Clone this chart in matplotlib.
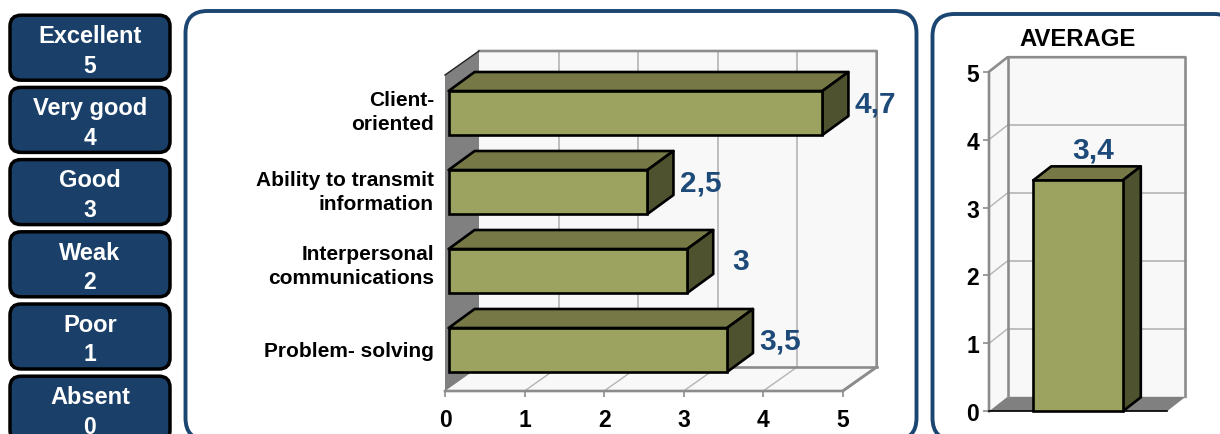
import matplotlib
matplotlib.use('Agg')
import matplotlib.pyplot as plt
import matplotlib.transforms as mtransforms
from matplotlib.patches import FancyBboxPatch, Polygon

plt.rcParams['font.family'] = ['Liberation Sans', 'DejaVu Sans']
plt.rcParams['font.weight'] = 'bold'

# chart values
scale_names = ['Excellent', 'Very good', 'Good', 'Weak', 'Poor', 'Absent']
scale_values = [5, 4, 3, 2, 1, 0]
categories = ['Client-\noriented', 'Ability to transmit\ninformation',
              'Interpersonal\ncommunications', 'Problem- solving']
scores = [4.7, 2.5, 3, 3.5]
average_title = 'AVERAGE'
average_score = [3.4]
score_ticks = [0, 1, 2, 3, 4, 5]

NAVY = '#1a4069'
LINE_BLUE = '#1b4672'
VALUE_BLUE = '#1d4a78'
BAR_FRONT = '#9ca25f'
BAR_TOP = '#767946'
BAR_SIDE = '#4f522f'
WALL = '#f8f8f8'
WALL_EDGE = '#8c8c8c'
GRID = '#b4b4b4'
DARK_WALL = '#808080'
W, H = 1220, 435


def pixel_axes(fig, left, right, top, bottom):
    return fig.add_axes([left / W, 1 - bottom / H, (right - left) / W, (bottom - top) / H])


def comma(v):
    return str(v).replace('.', ',')


def poly(ax, pts, face, edge='none', lw=0, z=1):
    ax.add_patch(Polygon(pts, closed=True, facecolor=face, edgecolor=edge, linewidth=lw,
                         joinstyle='round', clip_on=False, zorder=z))


# draws the top and side of a box whose front is x0..x1, y0..y1 (y1 is the upper edge)
def box_sides(ax, x0, x1, y0, y1, ddx, ddy, z):
    poly(ax, [(x0, y1), (x1, y1), (x1 + ddx, y1 + ddy), (x0 + ddx, y1 + ddy)], BAR_TOP, 'black', 1.9, z)
    poly(ax, [(x1, y0), (x1, y1), (x1 + ddx, y1 + ddy), (x1 + ddx, y0 + ddy)], BAR_SIDE, 'black', 1.9, z)


fig = plt.figure(figsize=(W / 100, H / 100), dpi=100, facecolor='white')

# background layer in pixels: panels and the scale buttons
bg = fig.add_axes([0, 0, 1, 1], zorder=0)
bg.set_xlim(0, W)
bg.set_ylim(H, 0)
bg.axis('off')

R = 22
for left, top, right in [(185.5, 12, 916.5), (932.5, 15, 1236)]:
    bg.add_patch(FancyBboxPatch((left + R, top + R), right - left - 2 * R, 441 - top - 2 * R,
                                boxstyle='round,pad=%d' % R, facecolor='white',
                                edgecolor=LINE_BLUE, linewidth=2.8))

for i, (name, val) in enumerate(zip(scale_names, scale_values)):
    top = 16.2 + i * 72.2
    bg.add_patch(FancyBboxPatch((21, top + 11), 138, 43, boxstyle='round,pad=11',
                                facecolor=NAVY, edgecolor='black', linewidth=2.5))
    bg.text(90, top + 20.2, name, color='white', fontsize=17, ha='center', va='center')
    bg.text(90, top + 50, str(val), color='white', fontsize=16.5, ha='center', va='center')

# horizontal 3D bars
ax = pixel_axes(fig, 445, 842.7, 76, 392)
ax.set_zorder(1)
ax.patch.set_alpha(0)
for s in ax.spines.values():
    s.set_visible(False)
ax.set_xlim(0, 5)
ax.set_ylim(len(categories) - 0.5, -0.5)
px_x = (842.7 - 445) / 5
px_y = 316 / len(categories)
wall_dx, wall_dy = 34 / px_x, -24 / px_y
y_top, y_bot = -0.5, len(categories) - 0.5

poly(ax, [(wall_dx, y_top + wall_dy), (5 + wall_dx, y_top + wall_dy),
          (5 + wall_dx, y_bot + wall_dy), (wall_dx, y_bot + wall_dy)], WALL, z=1)
poly(ax, [(0, y_bot), (wall_dx, y_bot + wall_dy), (5 + wall_dx, y_bot + wall_dy), (5, y_bot)], WALL, z=1)
for t in score_ticks[1:-1]:
    ax.plot([t + wall_dx, t + wall_dx], [y_top + wall_dy, y_bot + wall_dy], color=GRID, lw=1.2, zorder=2, clip_on=False)
    ax.plot([t, t + wall_dx], [y_bot, y_bot + wall_dy], color=GRID, lw=1.0, zorder=2, clip_on=False)
ax.plot([wall_dx, 5 + wall_dx, 5 + wall_dx, 5], [y_top + wall_dy, y_top + wall_dy, y_bot + wall_dy, y_bot],
        color=WALL_EDGE, lw=1.9, zorder=3, clip_on=False)
ax.plot([0, 5, 5 + wall_dx], [y_bot, y_bot, y_bot + wall_dy], color=WALL_EDGE, lw=1.9, zorder=3, clip_on=False)
ax.plot([wall_dx, 5 + wall_dx], [y_bot + wall_dy, y_bot + wall_dy], color=WALL_EDGE, lw=1.9, zorder=3, clip_on=False)
poly(ax, [(0, y_top), (wall_dx, y_top + wall_dy), (wall_dx, y_bot + wall_dy), (0, y_bot)], DARK_WALL, z=4)
ax.plot([0, wall_dx], [y_top, y_top + wall_dy], color='#222222', lw=1.0, zorder=5, clip_on=False)

bar_left = 3.6 / px_x
bar_h = 44 / px_y
bar_dx, bar_dy = 26 / px_x, -19 / px_y
pos = list(range(len(categories)))
centres = [p - 1.5 / px_y for p in pos]
ax.barh(centres, scores, left=bar_left, height=bar_h, color=BAR_FRONT, edgecolor='black',
        linewidth=1.9, zorder=7, clip_on=False)
for c, v in zip(centres, scores):
    box_sides(ax, bar_left, bar_left + v, c + bar_h / 2, c - bar_h / 2, bar_dx, bar_dy, 6)
    ax.text(bar_left + v + 53 / px_x, c - 9.7 / px_y, comma(v), color=VALUE_BLUE, fontsize=21.5,
            ha='center', va='center', zorder=8)

ax.set_xticks(score_ticks)
ax.set_yticks(pos)
ax.set_yticklabels(categories, ha='right', linespacing=1.33)
ax.tick_params(axis='x', length=4, width=1.2, color=WALL_EDGE, labelsize=16.5, pad=8)
ax.tick_params(axis='y', length=0, labelsize=15, pad=8)
nudges = [-7.5, -6, -11, -2.5]
for lab, n in zip(ax.get_yticklabels(), nudges):
    lab.set_transform(lab.get_transform() + mtransforms.Affine2D().translate(0, -n))

# single average column
ax2 = pixel_axes(fig, 989, 1167, 72.7, 412.3)
ax2.set_zorder(1)
ax2.patch.set_alpha(0)
for s in ax2.spines.values():
    s.set_visible(False)
ax2.set_xlim(0, 1)
ax2.set_ylim(0, 5)
px2_x = 178
px2_y = (412.3 - 72.7) / 5
d2x, d2y = 18.5 / px2_x, 14.5 / px2_y

poly(ax2, [(d2x, d2y), (1 + d2x, d2y), (1 + d2x, 5 + d2y), (d2x, 5 + d2y)], WALL, z=1)
poly(ax2, [(0, 0), (d2x, d2y), (d2x, 5 + d2y), (0, 5)], WALL, z=1)
for t in score_ticks[1:-1]:
    ax2.plot([d2x, 1 + d2x], [t + d2y, t + d2y], color=GRID, lw=1.2, zorder=2, clip_on=False)
    ax2.plot([0, d2x], [t, t + d2y], color=GRID, lw=1.0, zorder=2, clip_on=False)
poly(ax2, [(0, 0), (d2x, d2y), (1 + d2x, d2y), (1, 0)], DARK_WALL, z=3)
ax2.plot([0, 0, d2x, 1 + d2x, 1 + d2x], [0, 5, 5 + d2y, 5 + d2y, d2y], color=WALL_EDGE, lw=1.9, zorder=3, clip_on=False)
ax2.plot([d2x, d2x], [d2y, 5 + d2y], color=WALL_EDGE, lw=1.9, zorder=3, clip_on=False)
ax2.plot([0, 1], [0, 0], color='black', lw=1.2, zorder=4, clip_on=False)

col_left, col_right = (1033.2 - 989) / px2_x, (1122.8 - 989) / px2_x
col_dx, col_dy = 18 / px2_x, 14 / px2_y
ax2.bar([(col_left + col_right) / 2], average_score, width=col_right - col_left, color=BAR_FRONT,
        edgecolor='black', linewidth=1.9, zorder=7, clip_on=False)
box_sides(ax2, col_left, col_right, 0, average_score[0], col_dx, col_dy, 6)
ax2.text((col_left + col_right) / 2 + 15 / px2_x, average_score[0] + 30.5 / px2_y, comma(average_score[0]),
         color=VALUE_BLUE, fontsize=21.5, ha='center', va='center', zorder=8)
ax2.set_xticks([])
ax2.set_yticks(score_ticks)
ax2.tick_params(axis='y', length=4, width=1.2, color=WALL_EDGE, labelsize=16.5, pad=3)
ax2.set_title(average_title, fontsize=17.2, fontweight='bold', y=1, pad=19.5)

fig.savefig('out.png', dpi=100)
